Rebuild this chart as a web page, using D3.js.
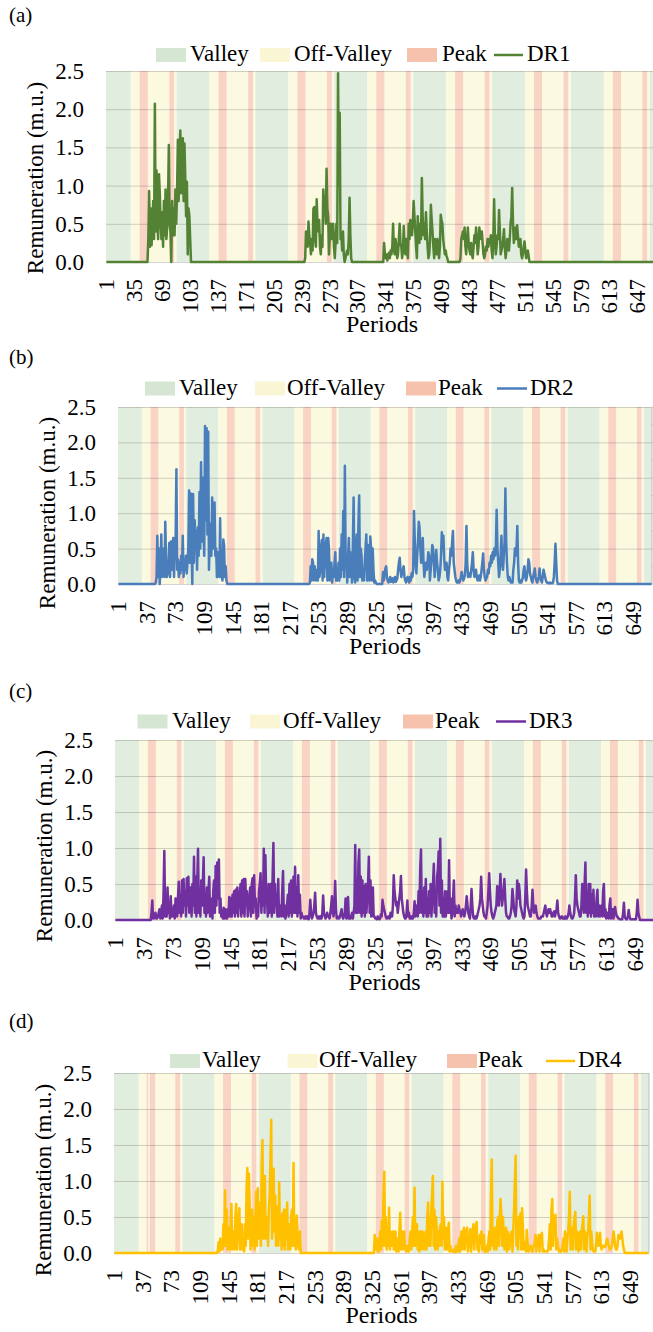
<!DOCTYPE html>
<html>
<head>
<meta charset="utf-8">
<script src="https://cdn.jsdelivr.net/npm/d3@7"></script>
<style>
  body { margin: 0; background: #fff; }
  svg { display: block; }
</style>
</head>
<body>
<svg id="chart" width="653" height="1332"></svg>
<script>
const periods = d3.range(1, 673);
const ticksA = [1, 35, 69, 103, 137, 171, 205, 239, 273, 307, 341, 375, 409, 443, 477, 511, 545, 579, 613, 647];
const ticksBCD = [1, 37, 73, 109, 145, 181, 217, 253, 289, 325, 361, 397, 433, 469, 505, 541, 577, 613, 649];
const yTicks = [0, 0.5, 1, 1.5, 2, 2.5];

const bandNames = ['Valley', 'Off-Valley', 'Peak'];
const bandColors = ['#d5e7d2', '#faf6d4', '#f7c2ad'];

// tariff periods as runs: [band index, number of periods]
const bandsABC = [
  [0, 30], [1, 11], [2, 10], [1, 26], [2, 6], [1, 3],
  [0, 40], [1, 11], [2, 10], [1, 26], [2, 6], [1, 3],
  [0, 40], [1, 11], [2, 10], [1, 26], [2, 6], [1, 3],
  [0, 40], [1, 11], [2, 10], [1, 26], [2, 6], [1, 3],
  [0, 40], [1, 11], [2, 10], [1, 26], [2, 6], [1, 3],
  [0, 40], [1, 11], [2, 10], [1, 26], [2, 6], [1, 3],
  [0, 40], [1, 11], [2, 10], [1, 26], [2, 6], [1, 3],
  [0, 10]
];
const bandsD = [
  [0, 31], [1, 10], [2, 2], [1, 2], [2, 7], [1, 25], [2, 6], [1, 3],
  [0, 40], [1, 11], [2, 10], [1, 26], [2, 6], [1, 3],
  [0, 40], [1, 11], [2, 10], [1, 26], [2, 6], [1, 3],
  [0, 40], [1, 11], [2, 10], [1, 26], [2, 6], [1, 3],
  [0, 40], [1, 11], [2, 10], [1, 26], [2, 6], [1, 3],
  [0, 40], [1, 11], [2, 10], [1, 26], [2, 6], [1, 3],
  [0, 40], [1, 11], [2, 10], [1, 26], [2, 6], [1, 3],
  [0, 10]
];

// remuneration, [first period, values...]; all other periods are 0
const dr1 = [
  [52, [0.3,0.93,0.2,0.7,0.22,0.5,0.8,0.3,2.07,0.4,1.2,0.55,0.3,1.15,0.9,0.5,0.3,0.65,0.2,0.8,0.35,0.95,0.3,0.45,0.8,1.53,0.5,0.4,0,0.8,0.35,0.7,0.35,0.95,0.5,0.9,1.6,0.8,1.45,1.72,0.9,1.2,1.62,0.8,1.55,1.1,0.6,1.05,0.1,0.7,0.6,0.3,0]],
  [243, [0.05,0.4,0.3,0.2,0.53,0.35,0.25,0.1,0.3,0.15,0.7,0.72,0.3,0.2,0.82,0.5,0.4,0.55,0.2,0.1,0.35,0.2,0.95,0.75,0.8,0.5,1.22,0.7,0.6,0.1,0.35,0.5,0.3,0.45,0.5,0.2,0.05,0.25,0.5,0.25,2.47,1.0,1.95,0.3,0.35,0.15,0.4,0.1,0,0.05,0.1,0.15,0.1,0.3,0.84,0.35,0.05,0]],
  [339, [0.25,0.1,0.05,0.1,0.02,0.08,0.12,0.05,0.15,0.1,0.2,0.5,0.15,0.1,0.3,0.2,0.05,0.1,0.3,0.5,0.25,0.2,0.05,0.15,0.47,0.2,0.1,0.3,0.15,0.05,0.5,0.3,0.55,0.45,0.35,0.5,0.8,0.6,0.4,0.2,0.05,0.6,0.35,0.25,0.5,0.3,1.1,0.6,0.35,0.5,0.3,0.65,0.4,0.2,0.05,0.1,0.3,0.75,0.55,0.4,0.2,0.05,0.3,0.2,0.1,0.3,0.15,0.05,0.2,0.62,0.55,0.5,0.3,0.2,0.1,0.15,0.08,0.05,0]],
  [432, [0.05,0.3,0.35,0.4,0.3,0.45,0.2,0.1,0.3,0.45,0.25,0.15,0.1,0.25,0.1,0.05,0.2,0.35,0.25,0.45,0.3,0.1,0.2,0.45,0.35,0.3,0.4,0.25,0.1,0.05,0.1,0.2,0.15,0.3,0.2,0.3,0.25,0.35,0.15,0.05,0.3,0.82,0.3,0.1,0.2,0.35,0.3,0.68,0.4,0.1,0.15,0.2,0.3,0.43,0.2,0.05,0.15,0.3,0.25,0.15,0.3,0.5,0.6,0.97,0.5,0.25,0.35,0.45,0.3,0.48,0.35,0.2,0.25,0.3,0.1,0.05,0.1,0.2,0.27,0.15,0.05,0.1,0.15,0.08,0]]
];
const dr2 = [
  [48, [0.02,0.1,0.68,0.1,0.5,0,0.25,0.7,0.1,0.2,0.5,0.1,0.88,0.3,0.1,0.15,0.3,0.58,0.1,0.6,
        0.2,0.5,0.65,0.1,0.45,0.6,1.62,0.2,0.35,0.1,0.3,0.15,0.4,0.2,0.68,0.1,0.3,0.2,0.4,0.15,
        0.3,0.5,1.32,0.3,1.28,0.6,0,1.27,0.3,0.9,0.6,0.75,0.2,0.8,0.4,1.3,0.5,1.72,0.6,1.5,
        0.8,0.4,2.23,0.9,2.2,0.7,2.15,0.2,0.7,0.85,0.4,1.22,0.5,0.9,1.15,0.4,0.5,0.1,0.45,0.3,
        0.1,0.93,0.2,0.1,0.05,0.63,0.55,0.1,0.25,0.05,0]],
  [242, [0.02,0.25,0.05,0.35,0.3,0.05,0.25,0.1,0.05,0.2,0.05,0.75,0.1,0.2,0.5,0.62,0.05,0.7,0.1,0.4,
         0.55,0.65,0.05,0.65,0.5,0.05,0.2,0.3,0.02,0.2,0.1,0.3,0.45,0.05,0.1,0.05,0.3,0.05,0.5,0.1,
         0.7,0.2,1.03,0.1,1.67,0.3,0.3,0.02,0.4,0.65,0.1,0.45,0.3,0.02,0.5,1.22,0.1,0.02,0.5,0.7,
         0.05,0.8,1.25,0.1,0.5,0.4,0.05,0.2,0.05,0.3,0.5,0.7,0.05,0.55,0.3,0.05,0.67,0.5,0.05,0.5,
         0.2,0.02,0.05,0.02,0]],
  [334, [0.17,0.05,0.15,0.22,0.25,0.08,0.05,0.02,0.05,0.1,0.03,0.05,0.08,0.02,0.05,0.1,0.03,0.05,0.08,0.2,
         0.3,0.37,0.2,0.1,0.15,0.2,0.25,0.1,0.05,0.02,0.08,0.1,0.05,0.02,0.1,0.05,0.15,0.1,0.2,1.03,
         0.6,0.3,0.15,0.4,0.6,0.88,0.8,0.5,0.3,0.4,0.65,0.3,0.1,0.2,0.3,0.2,0.3,0.45,0.4,0.05,
         0.2,0.35,0.55,0.5,0.3,0.1,0.3,0.48,0.3,0.2,0.05,0.1,0.2,0.4,0.73,0.5,0.68,0.35,0.2,0.3,
         0.3,0.1,0.05,0.2,0.3,0.5,0.4,0.6,0.75,0.3,0.2,0.1,0.05,0.02,0.02,0.05,0.02,0.05,0.1,0.17,
         0.1,0.05,0.08,0.12,0.3,0.82,0.3,0.1,0.12,0.15,0.1,0.2,0.3,0.45,0.2,0.1,0.15,0.2,0.1,0.05,
         0.08,0.12,0.05,0.1,0.2,0.3,0.43,0.2,0.1,0.05,0.08,0.1,0.2,0.15,0.3,0.25,0.4,0.3,0.45,0.35,
         0.5,0.4,0.5,1.05,0.5,0.3,0.1,0.2,0.4,0.68,0.3,0.2,0.4,0.6,1.35,0.6,0.3,0.1,0.05,0.1,
         0.05,0.02,0.05,0.02,0.2,0.3,0.5,0.4,0.5,0.82,0.3,0.05,0.02,0.05,0.02,0.05,0.1,0.2,0.25,0.1,
         0.05,0.1,0.2,0.35,0.3,0.15,0.1,0.05,0.02,0.1,0.15,0.22,0.1,0.05,0.02,0.05,0.1,0.22,0.1,0.05,
         0.02,0.1,0.2,0.15,0.1,0.05,0.02,0.02,0.01,0.02,0.01,0.02,0.01,0.01,0.02,0.1,0.3,0.57,0.3,0.05,0]]
];
const dr3 = [
  [45, [0,0.1,0.27,0.02,0.02,0.05,0.1,0.02,0.02,0.05,0.1,0.15,0.02,0.1,0.2,0.02,0.35,0.96,0.05,0.3,
        0.05,0.45,0.1,0.15,0.02,0.33,0.05,0.05,0.1,0.2,0.02,0.3,0.1,0.05,0.3,0.53,0.1,0.2,0.05,0.55,
        0.1,0.57,0.2,0.4,0.05,0.58,0.2,0.6,0.1,0.3,0.45,0.05,0.5,0.2,0.88,0.1,0.6,0.05,0.5,0.99,
        0.1,0.4,0.05,0.55,0.2,0.5,0.87,0.1,0.3,0.05,0.45,0.1,0.4,0.6,0.05,0.3,0.25,0.02,0.4,0.55,
        0.1,0.75,0.2,0.8,0.3,0.84,0.1,0.3,0.05,0.1,0.02,0.17,0.02,0.15,0.05,0.02,0.15,0.05,0.32,0.05,
        0.3,0.05,0.35,0.1,0.4,0.05,0.42,0.1,0.45,0.05,0.25,0.35,0.5,0.05,0.55,0.1,0.57,0.05,0.57,0.2,
        0.4,0.05,0.2,0.3,0.45,0.05,0.5,0.58,0.1,0.62,0.2,0.3,0.02,0.2,0.05,0.4,0.5,0.65,0.1,0.4,
        0.2,0.99,0.1,0.9,0.3,0.3,0.05,0.5,0.1,0.35,0.5,0.05,0.6,1.07,0.1,0.5,0.2,0.3,0.05,0.57,
        0.05,0.1,0.2,0.05,0.4,0.68,0.05,0.2,0.02,0.1,0.2,0.35,0.05,0.5,0.1,0.55,0.05,0.3,0.6,0.1,
        0.74,0.1,0.45,0.05,0.62,0.1,0.35,0.02,0.1,0.05,0.05,0.02,0.02,0.05,0.02,0.05,0.02,0.01,0.1,0.28,
        0.1,0.02,0.05,0.1,0.2,0.38,0.1,0.05,0.02,0.02,0.05,0.02,0.05,0.02,0.1,0.34,0.1,0.05,0.02,0.05,
        0.1,0.05,0.05,0.02,0.1,0.2,0.33,0.1,0.05,0.2,0.54,0.15,0.02,0.05,0.02,0.02,0.05,0.1,0.15,0.05,
        0.02,0.05,0.1,0.3,0.02,0.2,0.32,0.02,0.05,0.02,0.05,0.1,0.02,0.1,0.2,1.04,0.1,0.4,0.1,0.8,
        0.98,0.1,0.6,0.05,0.55,0.1,0.47,0.05,0.5,0.1,0.3,0.5,0.88,0.1,0.55,0.05,0.3,0.45,0.05,0.05,
        0.02,0.02,0.01,0.05,0.02,0.01,0.02,0.08,0.05,0.28,0.2,0.15,0.1,0.05,0.02,0.02,0.05,0.05,0.02,0.1,
        0.05,0.05,0.2,0.62,0.4,0.3,0.2,0.25,0.1,0.2,0.3,0.4,0.61,0.3,0.2,0.1,0.05,0.02,0.02,0.1,
        0.27,0.05,0.1,0.02,0.05,0.02,0.05,0.02,0.1,0.26,0.05,0.1,0.2,0.05,0.4,0.1,0.7,0.98,0.1,0.4,
        0.05,0.45,0.1,0.57,0.05,0.3,0.05,0.4,0.1,0.5,0.05,0.3,0.5,0.78,0.1,0.3,0.05,0.6,0.7,0.95,
        0.2,1.13,0.1,0.55,0.05,0.3,0.05,0.4,0.05,0.2,0.4,0.1,0.83,0.1,0.3,0.02,0.1,0.3,0.55,0.05,
        0.2,0.1,0.15,0.1,0.2,0.15,0.1,0.05,0.1,0.15,0.1,0.05,0.1,0.2,0.33,0.2,0.1,0.05,0.02,0.2,
        0.43,0.2,0.05,0.02,0.02,0.05,0.02,0.05,0.1,0.15,0.2,0.3,0.6,0.3,0.2,0.1,0.05,0.05,0.02,0.1,
        0.2,0.4,0.65,0.4,0.2,0.1,0.05,0.02,0.05,0.1,0.15,0.2,0.47,0.3,0.2,0.4,0.64,0.4,0.2,0.3,
        0.4,0.57,0.3,0.1,0.05,0.05,0.02,0.02,0.05,0.1,0.2,0.43,0.3,0.15,0.1,0.05,0.2,0.55,0.3,0.5,
        0.4,0.2,0.15,0.1,0.05,0.02,0.05,0.3,0.7,0.4,0.2,0.15,0.1,0.05,0.05,0.2,0.42,0.2,0.1,0.15,
        0.2,0.1,0.05,0.02,0.02,0.02,0.02,0.05,0.05,0.05,0.1,0.15,0.2,0.1,0.05,0.1,0.15,0.1,0.15,0.1,
        0.05,0.05,0.1,0.12,0.05,0.1,0.15,0.27,0.1,0.05,0.02,0.02,0.05,0.05,0.02,0.03,0.02,0.05,0.02,0.02,
        0.05,0.1,0.2,0.1,0.05,0.02,0.02,0.05,0.1,0.3,0.62,0.3,0.2,0.15,0.1,0.05,0.05,0.2,0.5,0.3,
        0.1,0.5,0.8,0.1,0.3,0.05,0.5,0.1,0.5,0.05,0.35,0.1,0.42,0.05,0.2,0.05,0.3,0.42,0.05,0.2,
        0.05,0.1,0.2,0.05,0.4,0.5,0.05,0.15,0.02,0.05,0.1,0.02,0.2,0.3,0.02,0.1,0.15,0.02,0.15,0.18,
        0.1,0.05,0.05,0.02,0.02,0.01,0.01,0.01,0.01,0.1,0.24,0.05,0.02,0.01,0.01,0.05,0.14,0.05,0.01,0.01,
        0.01,0.01,0.01,0.01,0.01,0.01,0.1,0.28,0.1,0.05,0]]
];
const dr4 = [
  [131, [0.05,0.15,0.02,0.2,0.05,0.15,0.05,0.4,0.1,0.87,0.1,0.6,0.05,0.2,0.35,0.05,0.4,0.68,0.05,0.2,
         0.3,0.05,0.5,0.68,0.05,0.3,0.45,0.62,0.05,0.3,0.4,0.05,0.1,0.02,0.4,0.1,0.9,1.18,0.2,1.1,
         0.6,0.05,0.4,0.6,0.1,0.5,0.05,0.4,0.85,0.1,0.9,0.2,0.5,0.7,0.1,1.2,1.57,0.2,0.6,1.07,
         0.2,0.3,0.5,0.1,0.6,0.8,1.3,1.85,0.2,0.5,1.17,0.3,0.8,0.1,0.5,0.65,0.1,0.98,0.2,0.5,
         0.05,0.55,0.1,0.6,0.05,0.6,0.2,0.7,0.05,0.3,0.4,0.05,0.5,0.6,0.1,1.25,0.1,0.3,0.05,0.52,
         0.3,0.1,0.05,0.3,0]],
  [327, [0,0.25,0.05,0.1,0.2,0.02,0.02,0.1,0.3,0.05,0.45,0.1,0.8,1.13,0.1,0.5,0.05,0.35,0.1,0.63,
         0.05,0.3,0.1,0.2,0.3,0.05,0.25,0.3,0.02,0.2,0.1,0.02,0.3,0.56,0.05,0.3,0.2,0.05,0.3,0.05,
         0.1,0.02,0.05,0.1,0.02,0.2,0.3,0.05,0.3,0.5,0.1,0.91,0.1,0.3,0.4,0.05,0.3,0.02,0.25,0.3,
         0.05,0.3,0.25,0.05,0.2,0.3,0.05,0.5,0.7,0.1,0.5,0.1,0.6,0.8,1.07,0.1,0.6,0.05,0.5,0.3,
         0.05,0.3,0.1,0.35,0.4,0.1,0.99,0.2,0.5,0.05,0.3,0.35,0.05,0.3,0.42,0.02,0.1,0.05,0.02,0.02,
         0.02,0.05,0.01,0.1,0.08,0.02,0.1,0.2,0.02,0.2,0.3,0.05,0.25,0.35,0.05,0.2,0.3,0.35,0.02,0.1,
         0.2,0.33,0.02,0.2,0.3,0.4,0.05,0.3,0.35,0.43,0.05,0.2,0.02,0.25,0.2,0.3,0.05,0.2,0.25,0.02,
         0.05,0.02,0.1,0.02,0.2,0.3,0.05,0.8,1.3,0.1,0.3,0.05,0.35,0.3,0.05,0.45,0.5,0.1,0.5,0.75,
         0.54,0.1,0.5,0.3,0.05,0.3,0.35,0.02,0.3,0.25,0.05,0.2,0.25,0.3,0.02,0.3,0.6,1.0,1.35,0.1,
         0.3,0.05,0.5,0.45,0.55,0.05,0.62,0.4,0.05,0.15,0.1,0.02,0.32,
         0.15,0.02,0.05,0.05,0.1,0.08,0.02,0.08,0.1,0.15,0.25,0.02,0.2,0.15,0.25,0.02,0.2,0.25,0.28,0.02,
         0.05,0.02,0.02,0.02,0.02,0.02,0.05,0.2,0.4,0.05,0.6,0.75,0.1,0.5,0.4,0.53,0.05,0.2,0.1,0.05,
         0.02,0.02,0.02,0.05,0.1,0.2,0.02,0.3,0.2,0.02,0.2,0.3,0.5,0.85,0.05,0.3,0.35,0.05,0.4,0.5,
         0.57,0.05,0.3,0.25,0.02,0.25,0.3,0.05,0.3,0.4,0.51,0.05,0.3,0.25,0.02,0.25,0.3,0.5,0.8,0.05,
         0.3,0.15,0.05,0.02,0.02,0.02,0.1,0.28,0.15,0.1,0.2,0.28,0.1,0.05,0.08,0.1,0.1,0.08,0.1,0.15,
         0.2,0.15,0.1,0.05,0.05,0.08,0.1,0.2,0.3,0.2,0.1,0.05,0.05,0.1,0.25,0.2,0.2,0.25,0.3,0.2,
         0.1,0.05,0]]
];

const svg = d3.select('#chart');
const serif = "'Liberation Serif'";

function expand(segs) {
  const v = periods.map(() => 0);
  segs.forEach(([start, vals]) => vals.forEach((d, i) => { v[start - 1 + i] = d; }));
  return v;
}

function toRuns(list) {
  let p = 1;
  return list.map(([b, n]) => {
    const r = { band: b, start: p, end: p + n - 1 };
    p += n;
    return r;
  });
}

const panels = [
  { tag: '(a)', tagY: 22, left: 106, right: 658, top: 71, bottom: 262, ticks: ticksA, bands: bandsABC,
    series: dr1, name: 'DR1', color: '#548235', legendY: 55, swatchX: [156, 260, 407], textX: [190, 294, 442, 527],
    lineX: [494, 523], titleX: 43, titleY: 178, right2: null },
  { tag: '(b)', tagY: 364, left: 118, right: 652, top: 407, bottom: 584, ticks: ticksBCD, bands: bandsABC,
    series: dr2, name: 'DR2', color: '#4a7ebb', legendY: 388.5, swatchX: [145, 255, 406], textX: [179, 287, 438, 530],
    lineX: [497, 527], titleX: 55, titleY: 513, right2: 'ticks' },
  { tag: '(c)', tagY: 698, left: 115, right: 654, top: 740, bottom: 920, ticks: ticksBCD, bands: bandsABC,
    series: dr3, name: 'DR3', color: '#7030a0', legendY: 721.5, swatchX: [137.5, 250, 403], textX: [172, 283, 435, 529],
    lineX: [496, 526], titleX: 52, titleY: 846, right2: null },
  { tag: '(d)', tagY: 1028, left: 114, right: 649, top: 1073, bottom: 1253, ticks: ticksBCD, bands: bandsD,
    series: dr4, name: 'DR4', color: '#ffc000', legendY: 1061, swatchX: [170, 287.5, 447], textX: [202, 319, 478, 578],
    lineX: [546, 575], titleX: 51, titleY: 1180, right2: 'line' }
];

panels.forEach(cfg => {
  const g = svg.append('g');
  const x = d3.scaleBand().domain(periods).range([cfg.left, cfg.right]);
  const y = d3.scaleLinear().domain([0, 2.5]).range([cfg.bottom, cfg.top]);
  const bw = x.bandwidth();

  // tariff background columns
  g.append('g').selectAll('rect')
    .data(toRuns(cfg.bands))
    .enter()
    .append('rect')
    .attr('x', d => x(d.start))
    .attr('width', d => x(d.end) + bw - x(d.start))
    .attr('y', cfg.top)
    .attr('height', cfg.bottom - cfg.top)
    .attr('fill', d => bandColors[d.band])
    .attr('opacity', 0.72);

  // gridlines
  const grid = g.append('g')
    .attr('transform', `translate(${cfg.left},0)`)
    .call(d3.axisLeft(y).tickValues(yTicks).tickSize(-(cfg.right - cfg.left)).tickFormat(''));
  grid.select('.domain').remove();
  grid.selectAll('line').attr('stroke', '#000').attr('stroke-opacity', 0.17);

  // secondary axis on the right
  if (cfg.right2) {
    g.append('line')
      .attr('x1', cfg.right).attr('x2', cfg.right)
      .attr('y1', cfg.top).attr('y2', cfg.bottom)
      .attr('stroke', '#bfbfbf');
    if (cfg.right2 === 'ticks') {
      const y2 = d3.scaleLinear().domain([0, 1]).range([cfg.bottom, cfg.top]);
      g.append('g').selectAll('line')
        .data(d3.range(0, 11))
        .enter()
        .append('line')
        .attr('x1', cfg.right).attr('x2', cfg.right + 4)
        .attr('y1', d => y2(d / 10)).attr('y2', d => y2(d / 10))
        .attr('stroke', '#bfbfbf');
    }
  }

  // y tick labels
  const ya = g.append('g')
    .attr('transform', `translate(${cfg.left - 22},0)`)
    .call(d3.axisLeft(y).tickValues(yTicks).tickSize(0).tickPadding(0).tickFormat(d3.format('.1f')));
  ya.select('.domain').remove();
  ya.selectAll('text')
    .style('font-family', serif).style('font-size', '23px')
    .attr('fill', '#000').attr('dy', '0.33em');

  // x tick labels, rotated
  const xa = g.append('g')
    .attr('transform', `translate(0,${cfg.bottom})`)
    .call(d3.axisBottom(x).tickValues(cfg.ticks).tickSize(0));
  xa.select('.domain').remove();
  xa.selectAll('text')
    .attr('transform', 'rotate(-90)')
    .attr('text-anchor', 'end')
    .attr('x', -17)
    .attr('y', 0)
    .attr('dy', '0.33em')
    .style('font-family', serif).style('font-size', '23px')
    .attr('fill', '#000');

  // series
  const values = expand(cfg.series);
  const line = d3.line()
    .x((d, i) => x(periods[i]) + bw / 2)
    .y(d => y(d));
  g.append('path')
    .datum(values)
    .attr('d', line)
    .attr('fill', 'none')
    .attr('stroke', cfg.color)
    .attr('stroke-width', 2.5)
    .attr('stroke-linejoin', 'round');

  // titles
  g.append('text')
    .attr('x', 9).attr('y', cfg.tagY)
    .style('font-family', serif).style('font-size', '21px')
    .text(cfg.tag);
  g.append('text')
    .attr('transform', `translate(${cfg.titleX},${cfg.titleY}) rotate(-90)`)
    .attr('text-anchor', 'middle')
    .style('font-family', serif).style('font-size', '23px')
    .text('Remuneration (m.u.)');
  g.append('text')
    .attr('x', (cfg.left + cfg.right) / 2)
    .attr('y', cfg.bottom + 70)
    .attr('text-anchor', 'middle')
    .style('font-family', serif).style('font-size', '24px')
    .text('Periods');

  // legend
  const lg = g.append('g');
  bandNames.forEach((name, i) => {
    lg.append('rect')
      .attr('x', cfg.swatchX[i]).attr('y', cfg.legendY - 7)
      .attr('width', 30).attr('height', 14)
      .attr('fill', bandColors[i]);
  });
  lg.append('line')
    .attr('x1', cfg.lineX[0]).attr('x2', cfg.lineX[1])
    .attr('y1', cfg.legendY).attr('y2', cfg.legendY)
    .attr('stroke', cfg.color).attr('stroke-width', 2.5);
  bandNames.concat([cfg.name]).forEach((name, i) => {
    lg.append('text')
      .attr('x', cfg.textX[i]).attr('y', cfg.legendY + 6)
      .style('font-family', serif).style('font-size', '23px')
      .text(name);
  });
});
</script>
</body>
</html>
